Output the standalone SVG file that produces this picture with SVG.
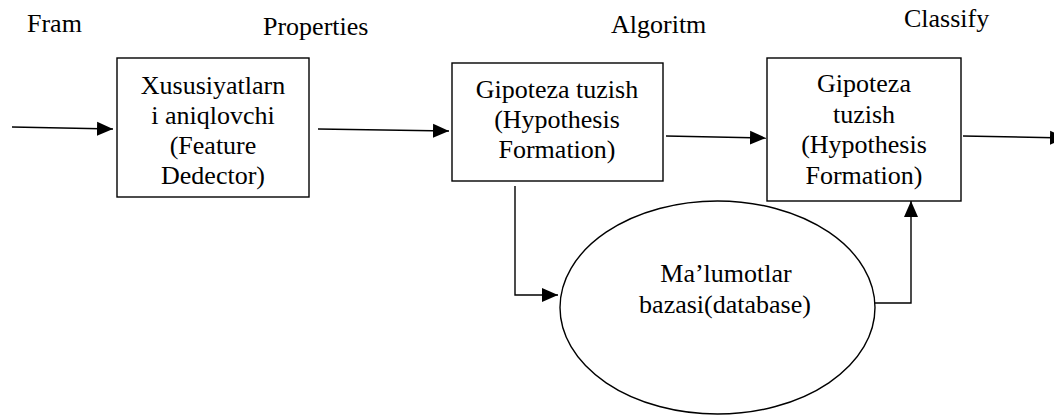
<svg xmlns="http://www.w3.org/2000/svg" width="1054" height="417" viewBox="0 0 1054 417">
<style>
text{font-family:"Liberation Serif","Times New Roman",serif;font-size:26px;fill:#000}
.c{text-anchor:middle}
.box{fill:#fff;stroke:#000;stroke-width:1.4}
.ln{fill:none;stroke:#000;stroke-width:1.4}
</style>
<defs>
<marker id="ah" markerUnits="userSpaceOnUse" markerWidth="17" markerHeight="16" refX="16" refY="8" orient="auto">
<path d="M0,1 L16,8 L0,15 Z" fill="#000"/>
</marker>
</defs>
<rect width="1054" height="417" fill="#fff"/>
<g id="labels">
<text x="27" y="32">Fram</text>
<text x="263" y="35">Properties</text>
<text x="611" y="33">Algoritm</text>
<text x="904" y="27">Classify</text>
</g>
<g id="connectors">
<path class="ln" d="M12,127 L113,129" marker-end="url(#ah)"/>
<path class="ln" d="M318,129 L449,131" marker-end="url(#ah)"/>
<path class="ln" d="M666,136 L766,138" marker-end="url(#ah)"/>
<path class="ln" d="M963,136 L1066,138" marker-end="url(#ah)"/>
<path class="ln" d="M515,186 L515,295 L558,295" marker-end="url(#ah)"/>
<path class="ln" d="M875,303 L911,303 L911,201" marker-end="url(#ah)"/>
</g>
<g id="feature-detector">
<rect class="box" x="117" y="58" width="192" height="139"/>
<text class="c" x="213" y="94">Xususiyatlarn</text>
<text class="c" x="213" y="124">i aniqlovchi</text>
<text class="c" x="213" y="154">(Feature</text>
<text class="c" x="213" y="184">Dedector)</text>
</g>
<g id="hypothesis-1">
<rect class="box" x="452" y="63" width="211" height="118"/>
<text class="c" x="557" y="98">Gipoteza tuzish</text>
<text class="c" x="557" y="128">(Hypothesis</text>
<text class="c" x="557" y="158">Formation)</text>
</g>
<g id="hypothesis-2">
<rect class="box" x="767" y="58" width="194" height="143"/>
<text class="c" x="864" y="92">Gipoteza</text>
<text class="c" x="864" y="123">tuzish</text>
<text class="c" x="864" y="153">(Hypothesis</text>
<text class="c" x="864" y="184">Formation)</text>
</g>
<g id="database">
<ellipse class="ln" cx="717.5" cy="307.5" rx="157.5" ry="106.5"/>
<text class="c" x="726" y="282">Ma’lumotlar</text>
<text class="c" x="725" y="313">bazasi(database)</text>
</g>
</svg>
